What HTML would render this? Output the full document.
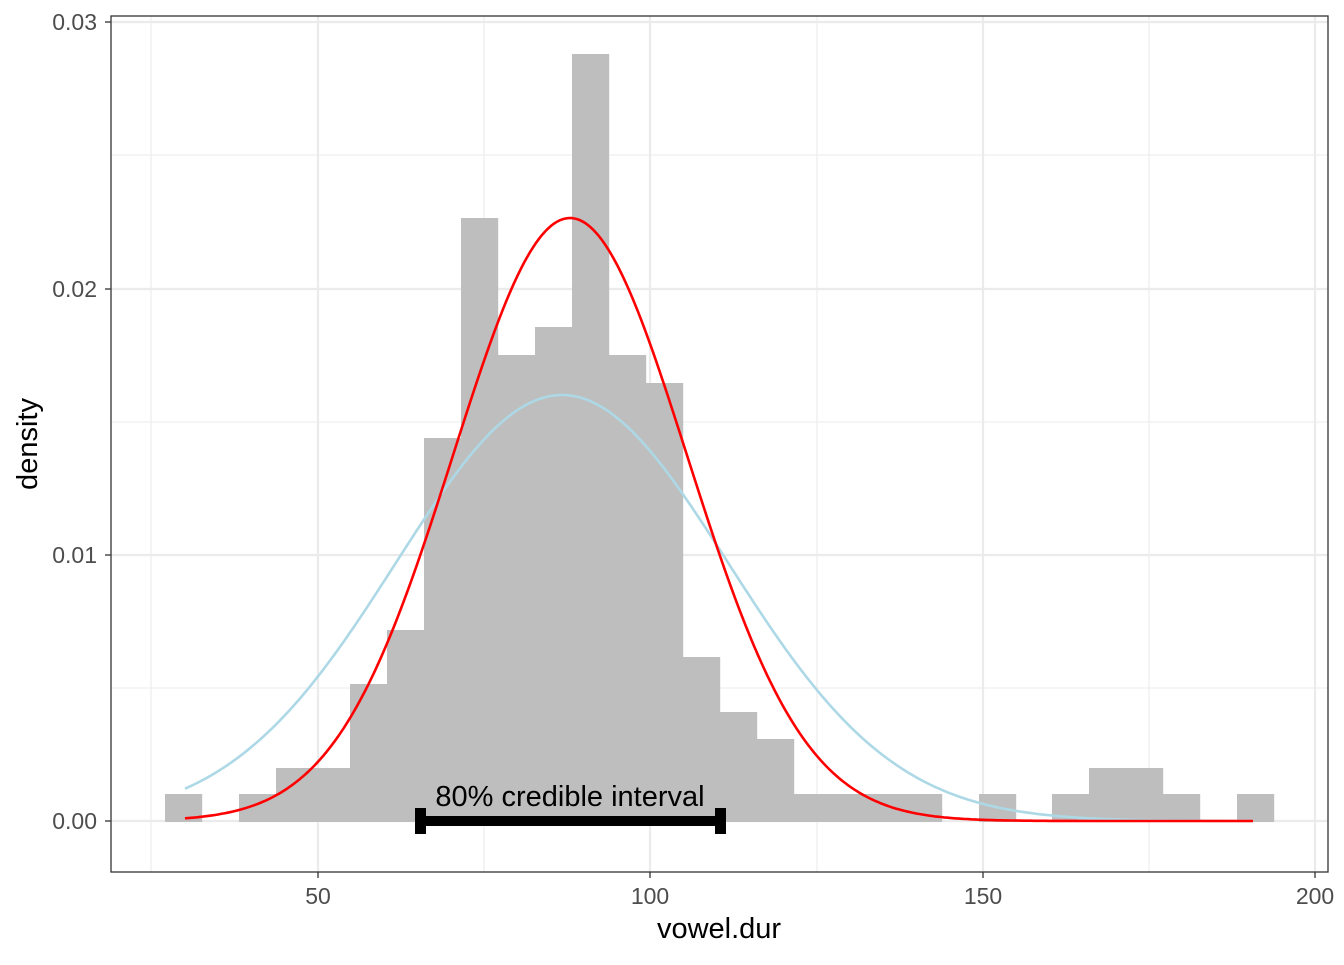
<!DOCTYPE html>
<html><head><meta charset="utf-8"><style>
body{margin:0;background:#fff;}
svg text{font-family:"Liberation Sans",sans-serif;}
</style></head><body>
<svg id="s" width="1344" height="960" xmlns="http://www.w3.org/2000/svg">
<rect width="1344" height="960" fill="#fff"/>
<g stroke="#ebebeb" stroke-width="1.1">
<line x1="151" y1="16" x2="151" y2="872"/><line x1="484" y1="16" x2="484" y2="872"/><line x1="817" y1="16" x2="817" y2="872"/><line x1="1149" y1="16" x2="1149" y2="872"/>
<line x1="111" y1="155" x2="1328" y2="155"/><line x1="111" y1="422" x2="1328" y2="422"/><line x1="111" y1="688" x2="1328" y2="688"/>
</g>
<g stroke="#ebebeb" stroke-width="2.2">
<line x1="318" y1="16" x2="318" y2="872"/><line x1="650" y1="16" x2="650" y2="872"/><line x1="983" y1="16" x2="983" y2="872"/><line x1="1315" y1="16" x2="1315" y2="872"/>
<line x1="111" y1="22" x2="1328" y2="22"/><line x1="111" y1="289" x2="1328" y2="289"/><line x1="111" y1="555" x2="1328" y2="555"/><line x1="111" y1="821" x2="1328" y2="821"/>
</g>
<g id="bars" fill="#bebebe"></g>
<path id="blue" fill="none" stroke="#add8e6" stroke-width="2.6"/>
<path id="red" fill="none" stroke="#ff0000" stroke-width="2.6"/>
<g fill="#000">
<rect x="420" y="816" width="301" height="10"/>
<rect x="415" y="808" width="11" height="26"/>
<rect x="715" y="808" width="11" height="26"/>
</g>
<text x="570" y="806" font-size="29" text-anchor="middle" fill="#000">80% credible interval</text>
<rect x="111" y="16" width="1217" height="856" fill="none" stroke="#333" stroke-width="1.3"/>
<g stroke="#333" stroke-width="1.3">
<line x1="318" y1="872" x2="318" y2="878"/><line x1="650" y1="872" x2="650" y2="878"/><line x1="983" y1="872" x2="983" y2="878"/><line x1="1315" y1="872" x2="1315" y2="878"/>
<line x1="105" y1="22" x2="111" y2="22"/><line x1="105" y1="289" x2="111" y2="289"/><line x1="105" y1="555" x2="111" y2="555"/><line x1="105" y1="821" x2="111" y2="821"/>
</g>
<g font-size="23" fill="#4d4d4d">
<text x="318" y="904" text-anchor="middle">50</text><text x="650" y="904" text-anchor="middle">100</text><text x="983" y="904" text-anchor="middle">150</text><text x="1315" y="904" text-anchor="middle">200</text>
<text x="97" y="30" text-anchor="end">0.03</text><text x="97" y="297" text-anchor="end">0.02</text><text x="97" y="563" text-anchor="end">0.01</text><text x="97" y="829" text-anchor="end">0.00</text>
</g>
<text x="719" y="938" font-size="29" text-anchor="middle">vowel.dur</text>
<text x="0" y="0" font-size="29" text-anchor="middle" transform="translate(37,444) rotate(-90)">density</text>
</svg>
<script>
var bars=[[165,794],[239,794],[276,768],[313,768],[350,684],[387,630],[424,438],[461,218],[498,355],[535,327],[572,54],[609,355],[646,383],[683,657],[720,712],[757,739],[794,794],[831,794],[868,794],[905,794],[979,794],[1052,794],[1089,768],[1126,768],[1163,794],[1237,794]];
var g=document.getElementById('bars'),h='';
bars.forEach(function(b){h+='<rect x="'+b[0]+'" y="'+b[1]+'" width="37.2" height="'+(822-b[1])+'"/>';});
g.innerHTML=h;
function curve(id,mu,sd,peak){var d='';for(var x=185;x<=1255;x+=3){var y=821-peak*Math.exp(-0.5*Math.pow((x-mu)/sd,2));d+=(d?'L':'M')+x+' '+y.toFixed(1);}document.getElementById(id).setAttribute('d',d);}
curve('red',570,117,603);
curve('blue',562,166,426);
</script>
</body></html>
